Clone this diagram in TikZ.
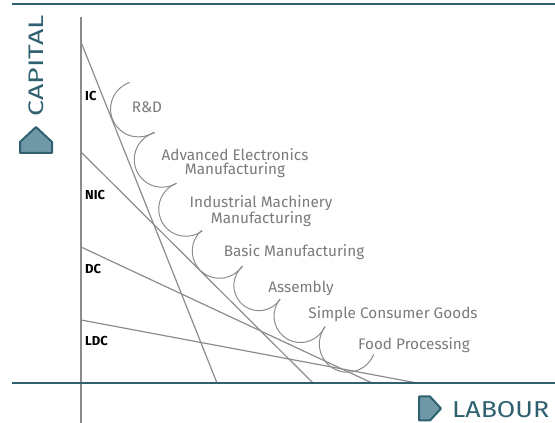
\documentclass[tikz,border=0pt]{standalone}
\usepackage{fontspec}
\setmainfont{Fira Sans}
\usepackage{tikz}
\usetikzlibrary{calc}

\definecolor{axisteal}{HTML}{2E6070}
\definecolor{badgefill}{HTML}{7198A7}
\definecolor{linegray}{HTML}{8C8C8C}
\definecolor{textgray}{HTML}{7A7A7A}

\begin{document}
\begin{tikzpicture}[x=1pt,y=1pt,
    econ/.style={draw=linegray,line width=1.2pt},
    scallop/.style={draw=linegray,line width=1pt},
    stage/.style={text=textgray,font=\fontsize{15.3}{14.5}\selectfont,align=center,inner sep=0pt},
    level/.style={anchor=west,font=\fontsize{13}{14}\selectfont\bfseries,inner sep=0pt},
    axislab/.style={text=axisteal,inner sep=0pt},
    badge/.style={draw=axisteal,fill=badgefill,line width=2pt,line join=round}]

  \useasboundingbox (0,0) rectangle (555,423);

  \coordinate (T_l) at (12,419);   \coordinate (T_r) at (555,419);
  \coordinate (X_l) at (12,40);    \coordinate (X_r) at (555,40);
  \coordinate (Y_up) at (81,406);  \coordinate (Y_dn) at (81,0);

  \coordinate (IC_k) at (81,381);  \coordinate (IC_l) at (217,40);
  \coordinate (NIC_k) at (81,271); \coordinate (NIC_l) at (313,40);
  \coordinate (DC_k) at (81,176);  \coordinate (DC_l) at (372,40);
  \coordinate (LDC_k) at (81,103); \coordinate (LDC_l) at (417,40);

  \path [econ]
    (Y_up)  edge (Y_dn)
    (IC_k)  edge (IC_l)
    (NIC_k) edge (NIC_l)
    (DC_k)  edge (DC_l)
    (LDC_k) edge (LDC_l);

  \path [draw=axisteal,line width=2.4pt]
    (T_l) edge (T_r)
    (X_l) edge (X_r);

  \coordinate (c_0) at (126,339);
  \coordinate (c_1) at (151,289);
  \coordinate (c_2) at (173,238);
  \coordinate (c_3) at (199,190);
  \coordinate (c_4) at (240,154);
  \coordinate (c_5) at (278,121);
  \coordinate (c_6) at (323,93);
  \coordinate (c_7) at (372,65);

  \foreach \a/\b in {c_0/c_1,c_1/c_2,c_2/c_3,c_3/c_4,c_4/c_5,c_5/c_6,c_6/c_7}
    \draw [scallop] let \p1=($(\b)-(\a)$), \n1={atan2(\y1,\x1)}, \n2={veclen(\x1,\y1)/2} in
      ($(\a)!0.5!(\b)$) ++(\n1+172:\n2) arc [start angle=\n1+172, delta angle=196, radius=\n2];

  \node [stage] (RD)  at (147,316) {R\&D};
  \node [stage] (AEM) at (235,260) {Advanced Electronics\\Manufacturing};
  \node [stage] (IMM) at (261,212) {Industrial Machinery\\Manufacturing};
  \node [stage] (BM)  at (294,171) {Basic Manufacturing};
  \node [stage] (AS)  at (301,135) {Assembly};
  \node [stage] (SCG) at (393,109) {Simple Consumer Goods};
  \node [stage] (FP)  at (414,78)  {Food Processing};

  \node [level] (IC)  at (85,327) {IC};
  \node [level] (NIC) at (85,228) {NIC};
  \node [level] (DC)  at (85,154) {DC};
  \node [level] (LDC) at (85,82)  {LDC};

  \node [axislab,font=\fontsize{21}{22}\selectfont,rotate=90] (Klab) at (36,357) {\scalebox{1.36}[1]{CAPITAL}};
  \node [axislab,font=\fontsize{23}{24}\selectfont,anchor=west] (Llab) at (452,13.5) {\scalebox{1.16}[1]{LABOUR}};

  \draw [badge] (20,270) -- (20,281) -- (36,296) -- (52,281) -- (52,270) -- cycle;
  \draw [badge] (419,2.5) -- (419,26.5) -- (430,26.5) -- (441,14.5) -- (430,2.5) -- cycle;

\end{tikzpicture}
\end{document}
